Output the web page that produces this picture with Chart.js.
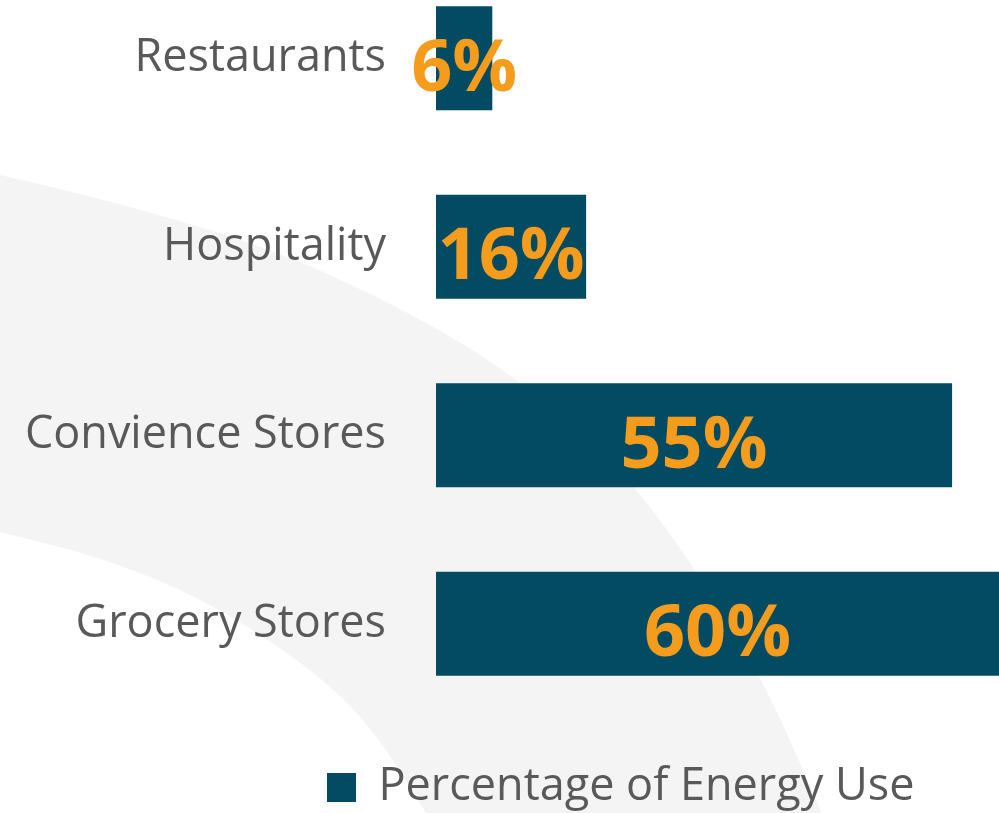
<!DOCTYPE html>
<html>
<head>
<meta charset="utf-8">
<script src="https://cdn.jsdelivr.net/npm/chart.js@4"></script>
<style>
    html, body { margin: 0; padding: 0; background: #fff; overflow: hidden; width: 999px; height: 813px; }
    #wrap { position: absolute; left: 0; top: -36px; width: 999px; height: 856px; }
</style>
</head>
<body>
<div id="wrap"><canvas id="mainChart"></canvas></div>
<script>
const categories = ['Restaurants', 'Hospitality', 'Convience Stores', 'Grocery Stores'];
const energyUse = [6, 16, 55, 60];
const seriesLabel = 'Percentage of Energy Use';
const xMin = 0;
const xMax = 60;

const FONT = "'Open Sans', 'Noto Sans', sans-serif";
const barColor = '#034b62';
const labelColor = '#f59c1c';
const textColor = '#595959';

// faixa cinza decorativa no fundo
const backdrop = {
    id: 'backdrop',
    beforeDraw(chart) {
        const c = chart.ctx;
        const dy = 36;
        const outer = [[0, 175], [220, 225], [433, 322], [560, 410], [632, 482], [697, 571], [761, 675], [822, 813], [860, 905]];
        const inner = [[480, 905], [427, 813], [367, 720], [300, 660], [200, 597], [100, 557], [0, 532]];
        const pts = outer.concat(inner).map(p => [p[0], p[1] + dy]);
        c.save();
        c.fillStyle = '#f4f4f4';
        c.beginPath();
        const smooth = (list, first) => {
            if (first) c.moveTo(list[0][0], list[0][1]); else c.lineTo(list[0][0], list[0][1]);
            for (let i = 1; i < list.length - 1; i++) {
                const mx = (list[i][0] + list[i + 1][0]) / 2;
                const my = (list[i][1] + list[i + 1][1]) / 2;
                c.quadraticCurveTo(list[i][0], list[i][1], mx, my);
            }
            const last = list[list.length - 1];
            c.lineTo(last[0], last[1]);
        };
        smooth(pts.slice(0, outer.length), true);
        smooth(pts.slice(outer.length), false);
        c.closePath();
        c.fill();
        c.restore();
    }
};

// rótulos de valor dentro das barras
const valueLabels = {
    id: 'valueLabels',
    afterDatasetsDraw(chart) {
        const c = chart.ctx;
        const size = 72;
        c.save();
        c.font = `bold ${size}px ${FONT}`;
        c.fillStyle = labelColor;
        c.textAlign = 'center';
        c.textBaseline = 'alphabetic';
        chart.getDatasetMeta(0).data.forEach((bar, i) => {
            const x = (bar.x + bar.base) / 2;
            c.fillText(energyUse[i] + '%', x, bar.y + size * 0.45);
        });
        c.restore();
    }
};

// desloca a legenda para a posição do original
const legendShift = {
    id: 'legendShift',
    afterLayout(chart) {
        const lg = chart.legend;
        const w = lg.right - lg.left;
        lg.left = 280;
        lg.right = lg.left + w;
    }
};

const ctx = document.getElementById('mainChart').getContext('2d');
const mainChart = new Chart(ctx, {
    type: 'bar',
    data: {
        labels: categories,
        datasets: [{
            label: seriesLabel,
            data: energyUse,
            backgroundColor: barColor,
            borderWidth: 0,
            barPercentage: 0.553,
            categoryPercentage: 1
        }]
    },
    options: {
        indexAxis: 'y',
        responsive: true,
        maintainAspectRatio: false,
        animation: false,
        layout: { padding: 0 },
        scales: {
            x: { display: false, min: xMin, max: xMax },
            y: {
                grid: { display: false, drawTicks: false },
                border: { display: false },
                ticks: { color: textColor, font: { family: FONT, size: 45 }, padding: 50 },
                afterFit: s => {
                    s.width = 436;
                    s.paddingTop = 0;
                    s.paddingBottom = 0;
                }
            }
        },
        plugins: {
            legend: {
                position: 'bottom',
                align: 'start',
                labels: {
                    boxWidth: 29,
                    boxHeight: 29,
                    padding: 47,
                    color: textColor,
                    font: { family: FONT, size: 45 }
                }
            },
            tooltip: { enabled: false }
        }
    },
    plugins: [backdrop, valueLabels, legendShift]
});
</script>
</body>
</html>
